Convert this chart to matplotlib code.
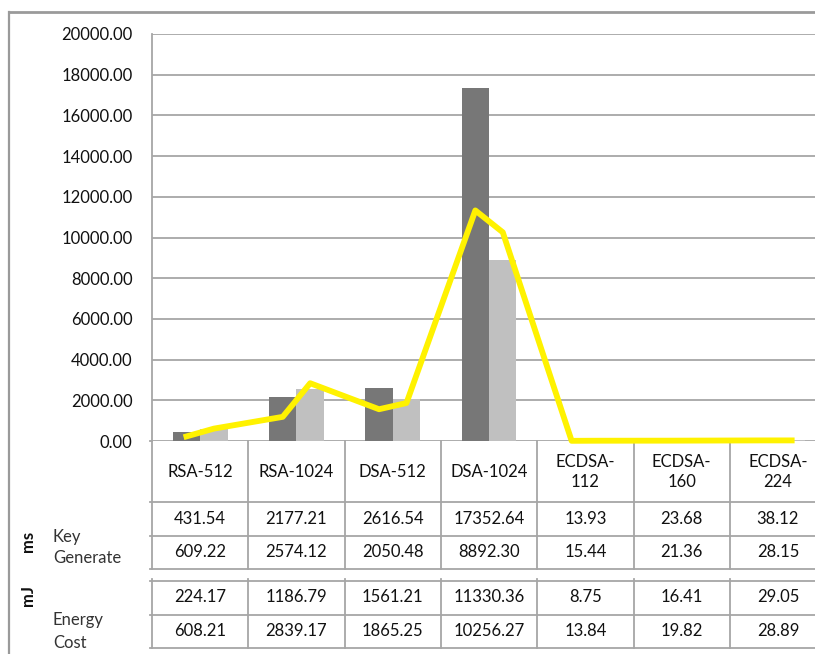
import matplotlib
matplotlib.use("Agg")
import matplotlib.pyplot as plt
import numpy as np
from matplotlib import transforms
from matplotlib.lines import Line2D

plt.rcParams['font.family'] = ['Lato', 'DejaVu Sans']

categories = ["RSA-512", "RSA-1024", "DSA-512", "DSA-1024", "ECDSA-\n112", "ECDSA-\n160", "ECDSA-\n224"]
keygen_a = [431.54, 2177.21, 2616.54, 17352.64, 13.93, 23.68, 38.12]
keygen_b = [609.22, 2574.12, 2050.48, 8892.30, 15.44, 21.36, 28.15]
energy_a = [224.17, 1186.79, 1561.21, 11330.36, 8.75, 16.41, 29.05]
energy_b = [608.21, 2839.17, 1865.25, 10256.27, 13.84, 19.82, 28.89]
yticks = np.arange(0, 20001, 2000)

W, H = 815, 654
fig = plt.figure(figsize=(W / 100, H / 100), dpi=100)

# background axes in pixel coordinates
bg = fig.add_axes([0, 0, 1, 1])
bg.set_xlim(0, W)
bg.set_ylim(H, 0)
bg.axis('off')

left_px, top_px, base_px = 152, 34, 441
cat_w = 96.3
n = len(categories)
right_px = left_px + n * cat_w
ax = fig.add_axes([left_px / W, 1 - base_px / H, (right_px - left_px) / W, (base_px - top_px) / H])
ax.patch.set_alpha(0)

x = np.arange(n) + 0.5
bw = 0.285
grid_c = '#A6A6A6'
ax.bar(x - bw / 2, keygen_a, width=bw, color='#777777', zorder=2)
ax.bar(x + bw / 2, keygen_b, width=bw, color='#C0C0C0', zorder=2)

# line through bar centres: energy values interleaved
lx = np.ravel(np.column_stack([x - bw / 2, x + bw / 2]))
ly = np.ravel(np.column_stack([energy_a, energy_b]))
ax.plot(lx, ly, color='#FFF200', lw=4.2, zorder=3, solid_joinstyle='round', clip_on=False)

ax.set_xlim(0, n)
ax.set_ylim(0, 20000)
ax.set_yticks(yticks)
ax.set_yticklabels([f"{v:.2f}" for v in yticks], fontsize=12, color='#111111')
ax.tick_params(axis='y', length=0, pad=14)
ax.set_xticks([])
for yv in yticks:
    ax.axhline(yv, color=grid_c, lw=1.3, zorder=1)
for s in ['top', 'right', 'bottom']:
    ax.spines[s].set_visible(False)
ax.spines['left'].set_color(grid_c)
ax.spines['left'].set_linewidth(1.3)

# outer frame of the picture
bg.add_line(Line2D([9, W], [12, 12], color='#9A9A9A', lw=2.0))
bg.add_line(Line2D([9, 9], [12, H], color='#9A9A9A', lw=1.6))

# table, x in data coordinates, y in pixels
tr = transforms.blended_transform_factory(ax.transData, bg.transData)
row_lines = [501.7, 536, 569, 580.5, 615, 648]
for yl in row_lines:
    bg.add_line(Line2D([left_px - 2, W], [yl, yl], color=grid_c, lw=1.3))
bg.add_line(Line2D([left_px - 2, left_px], [base_px, base_px], color=grid_c, lw=1.3))
for i in range(n + 1):
    xc = i
    bg.add_line(Line2D([xc, xc], [base_px, 569], color=grid_c, lw=1.3, transform=tr))
    bg.add_line(Line2D([xc, xc], [578.5, 648], color=grid_c, lw=1.3, transform=tr))

txt_c = '#111111'
for i, c in enumerate(categories):
    bg.text(x[i], 472, c, transform=tr, ha='center', va='center', fontsize=12,
            color=txt_c, linespacing=1.35)
row_y = [519, 552, 597, 631]
for ry, vals in zip(row_y, [keygen_a, keygen_b, energy_a, energy_b]):
    for i, v in enumerate(vals):
        bg.text(x[i], ry, f"{v:.2f}", transform=tr, ha='center', va='center',
                fontsize=12, color=txt_c)

# row headers
bg.text(28, 541, "ms", rotation=90, ha='center', va='center', fontsize=12,
        fontweight='bold', color=txt_c)
bg.text(28, 596, "mJ", rotation=90, ha='center', va='center', fontsize=12,
        fontweight='bold', color=txt_c)
lab_c = '#333333'
bg.text(53, 537, "Key", ha='left', va='center', fontsize=12, color=lab_c)
bg.text(53, 558, "Generate", ha='left', va='center', fontsize=12, color=lab_c)
bg.text(53, 620, "Energy", ha='left', va='center', fontsize=12, color=lab_c)
bg.text(53, 643, "Cost", ha='left', va='center', fontsize=12, color=lab_c)

fig.savefig("out.png", dpi=100, facecolor='white')
